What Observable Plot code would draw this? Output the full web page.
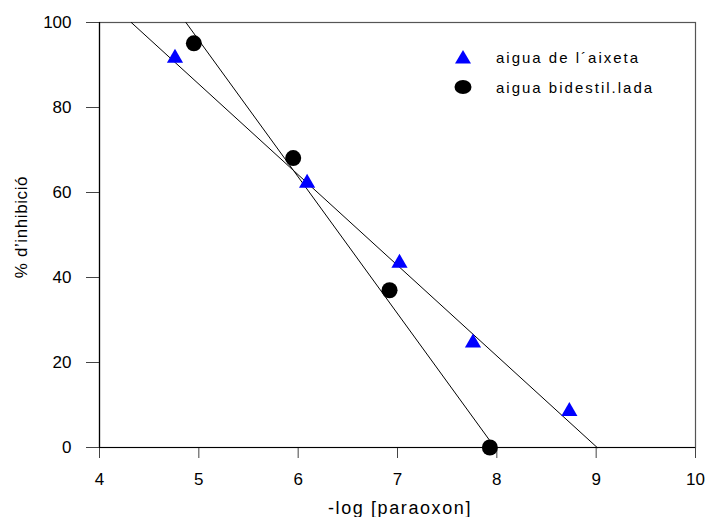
<!DOCTYPE html>
<html>
<head>
<meta charset="utf-8">
<script src="https://cdn.jsdelivr.net/npm/d3@7"></script>
<script src="https://cdn.jsdelivr.net/npm/@observablehq/plot@0.6"></script>
<style>
  body { margin: 0; background: #fff; }
  #wrap { position: relative; width: 708px; height: 517px; font-family: "Liberation Sans", Arial, sans-serif; }
  #legend { position: absolute; left: 452px; top: 42px; font-size: 15px; letter-spacing: 2px; color: #000; }
  #legend div { height: 30px; display: flex; align-items: center; }
  #legend svg { width: 22px; height: 20px; margin-right: 22px; }
</style>
</head>
<body>
<div id="wrap"></div>
<script>
// aigua de l´aixeta (triangles)
const tapX = [4.76, 6.09, 7.02, 7.76, 8.73];
const tapY = [91.6, 62.2, 43.4, 24.6, 8.5];
// aigua bidestil.lada (circles)
const bidX = [4.95, 5.95, 6.92, 7.93];
const bidY = [95.1, 68.1, 37.0, 0];
// fitted lines (endpoints read at y = 100 and y = 0)
const tapLineX = [4.32, 9.01];
const tapLineY = [100, 0];
const bidLineX = [4.87, 7.98];
const bidLineY = [100, 0];
const xTicks = [4, 5, 6, 7, 8, 9, 10];
const yTicks = [0, 20, 40, 60, 80, 100];
const seriesNames = ["aigua de l\u00b4aixeta", "aigua bidestil.lada"];

const tap = tapX.map((x, i) => ({x, y: tapY[i]}));
const bid = bidX.map((x, i) => ({x, y: bidY[i]}));
const tapLine = tapLineX.map((x, i) => ({x, y: tapLineY[i]}));
const bidLine = bidLineX.map((x, i) => ({x, y: bidLineY[i]}));

const chart = Plot.plot({
  width: 708,
  height: 517,
  marginLeft: 99,
  marginRight: 13,
  marginTop: 22,
  marginBottom: 70,
  style: {fontFamily: "'Liberation Sans', Arial, sans-serif", fontSize: "17px", background: "#fff", color: "#000", overflow: "visible"},
  x: {domain: [4, 10], label: null},
  y: {domain: [0, 100], label: null},
  marks: [
    Plot.frame({stroke: "#555", strokeWidth: 1.2}),
    Plot.axisX({ticks: xTicks, tickFormat: () => "", tickSize: 11, stroke: "#444", label: null}),
    Plot.axisY({ticks: yTicks, tickFormat: () => "", tickSize: 13, stroke: "#444", label: null}),
    Plot.text(xTicks, {x: d => d, y: 0, text: d => String(d), dy: 32, lineAnchor: "middle", textAnchor: "middle", fontSize: 17, fill: "#000"}),
    Plot.text(yTicks, {x: 4, y: d => d, text: d => String(d), dx: -28, lineAnchor: "middle", textAnchor: "end", fontSize: 17, fill: "#000"}),
    Plot.ruleX([4], {stroke: "#000", strokeWidth: 1.2}),
    Plot.ruleY([0], {stroke: "#000", strokeWidth: 1.2}),
    Plot.line(tapLine, {x: "x", y: "y", stroke: "#000", strokeWidth: 1}),
    Plot.line(bidLine, {x: "x", y: "y", stroke: "#000", strokeWidth: 1}),
    Plot.dot(tap, {x: "x", y: "y", symbol: "triangle", r: 6, fill: "#0000ff", stroke: "none"}),
    Plot.dot(bid, {x: "x", y: "y", symbol: "circle", r: 8, fill: "#000", stroke: "none"})
  ]
});

const wrap = document.getElementById("wrap");
wrap.appendChild(chart);

// axis titles
const svg = d3.select(chart);
svg.append("text")
  .attr("x", 400).attr("y", 514)
  .attr("text-anchor", "middle")
  .style("font-size", "18px").style("letter-spacing", "1.6px")
  .text("-log [paraoxon]");
svg.append("text")
  .attr("transform", "translate(27,227) rotate(-90)")
  .attr("text-anchor", "middle")
  .style("font-size", "17px").style("letter-spacing", "0.6px")
  .text("% d\u2019inhibició");

// legend
const legend = document.createElement("div");
legend.id = "legend";
legend.innerHTML = `
  <div><svg viewBox="-11 -10 22 20"><path d="M0,-7L8,6.5L-8,6.5Z" fill="#0000ff"/></svg><span>${seriesNames[0]}</span></div>
  <div><svg viewBox="-11 -10 22 20"><ellipse cx="0" cy="0" rx="8.5" ry="7" fill="#000"/></svg><span>${seriesNames[1]}</span></div>`;
wrap.appendChild(legend);
</script>
</body>
</html>
